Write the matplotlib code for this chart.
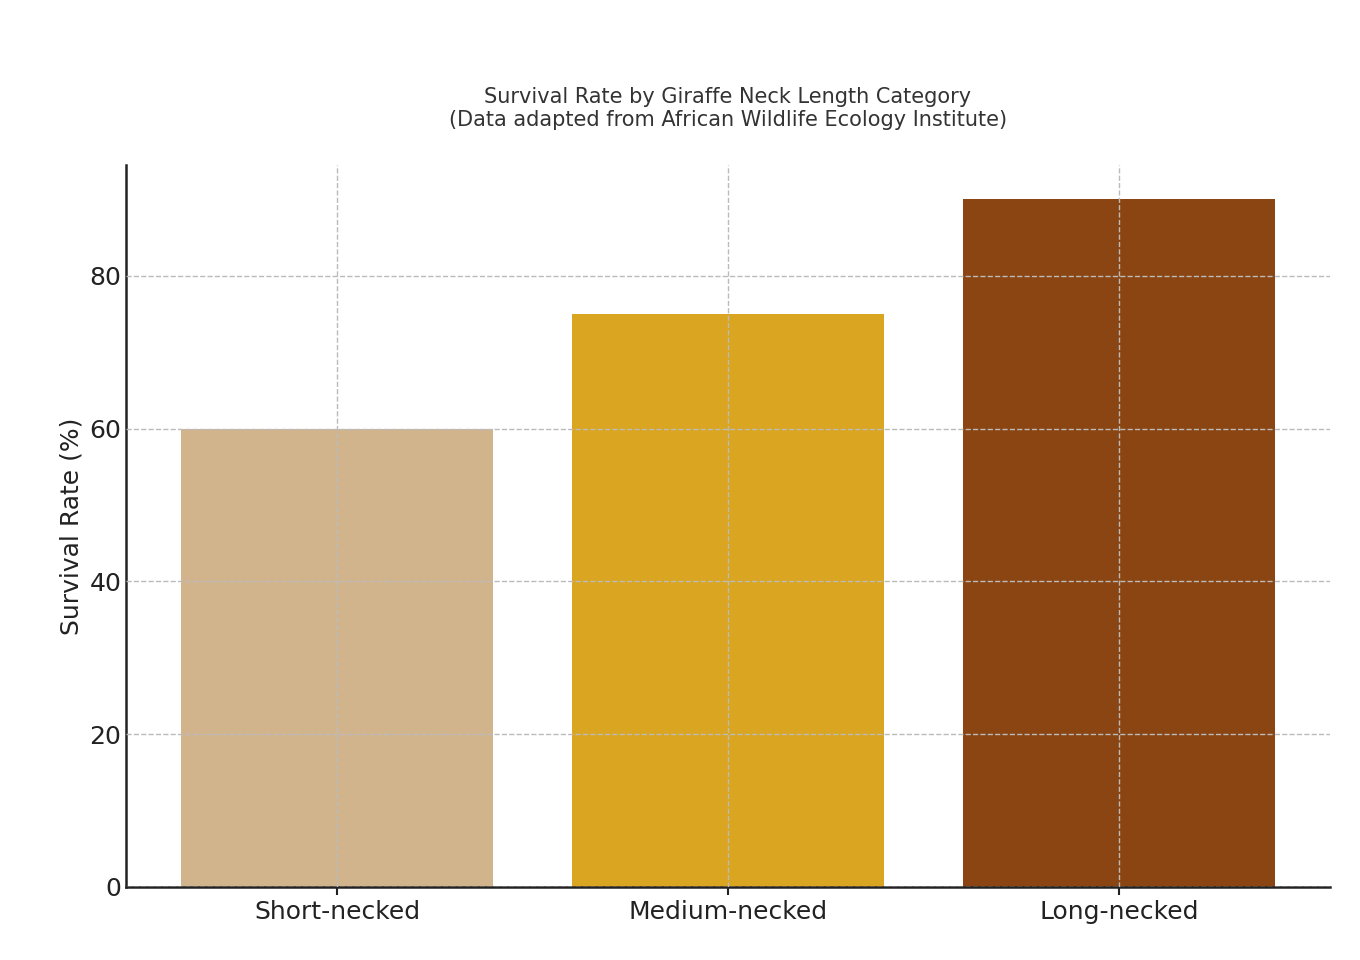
import matplotlib
matplotlib.use("Agg")
import matplotlib.pyplot as plt

categories = ["Short-necked", "Medium-necked", "Long-necked"]
survival = [60, 75, 90]
colors = ["#D2B48C", "#DAA520", "#8B4513"]

fig = plt.figure(figsize=(13.6, 9.6), dpi=100)
ax = fig.add_axes([126/1360, 1-887/960, (1330-126)/1360, (887-165)/960])
ax.bar(range(len(categories)), survival, width=0.8, color=colors, zorder=1)
ax.set_xticks(range(len(categories)))
ax.set_xticklabels(categories, fontsize=18, color="#222222")
ax.set_yticks([0, 20, 40, 60, 80])
ax.tick_params(axis="y", labelsize=18, colors="#222222", length=0)
ax.tick_params(axis="x", length=6, width=1.5, colors="#222222")
ax.set_xlim(-0.54, 2.54)
ax.set_ylim(0, 94.5)
ax.set_ylabel("Survival Rate (%)", fontsize=18, color="#222222")
ax.set_title("Survival Rate by Giraffe Neck Length Category\n(Data adapted from African Wildlife Ecology Institute)",
             fontsize=15, color="#333333", pad=28)
ax.grid(True, linestyle="--", color="#BBBBBB", linewidth=1, zorder=2)
ax.set_axisbelow(False)
for s in ["top", "right"]:
    ax.spines[s].set_visible(False)
for s in ["left", "bottom"]:
    ax.spines[s].set_linewidth(1.8)
    ax.spines[s].set_color("#222222")
fig.savefig("out.png", dpi=100)
